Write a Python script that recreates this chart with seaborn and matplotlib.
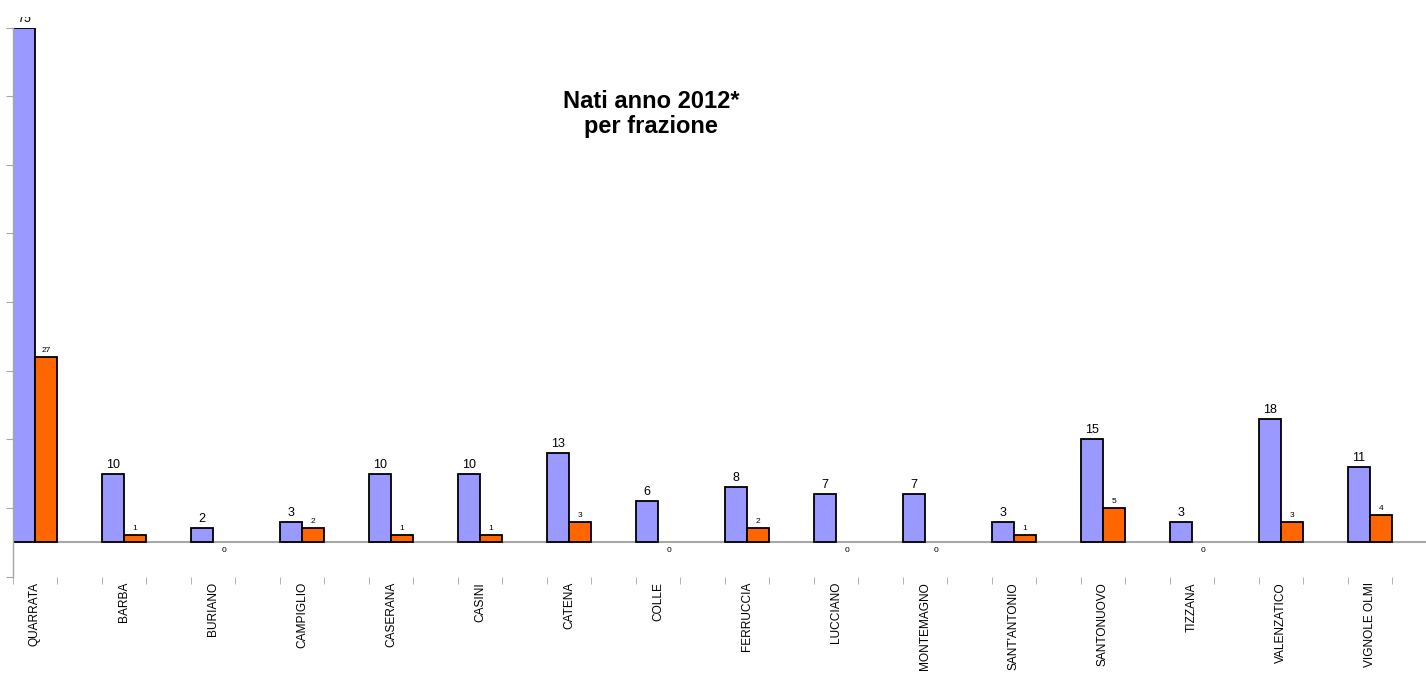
import pandas as pd
import seaborn as sns
import matplotlib.pyplot as plt
import numpy as np
from matplotlib.transforms import Bbox, TransformedBbox

frazioni = ['QUARRATA', 'BARBA', 'BURIANO', 'CAMPIGLIO', 'CASERANA', 'CASINI',
            'CATENA', 'COLLE', 'FERRUCCIA', 'LUCCIANO', 'MONTEMAGNO',
            "SANT'ANTONIO", 'SANTONUOVO', 'TIZZANA', 'VALENZATICO', 'VIGNOLE OLMI']
nati = [75, 10, 2, 3, 10, 10, 13, 6, 8, 7, 7, 3, 15, 3, 18, 11]
nati_2 = [27, 1, 0, 2, 1, 1, 3, 0, 2, 0, 0, 1, 5, 0, 3, 4]
y_ticks = [-5, 5, 15, 25, 35, 45, 55, 65, 75]

df = pd.DataFrame({
    'frazione': frazioni * 2,
    'valore': nati + nati_2,
    'serie': ['serie1'] * len(frazioni) + ['serie2'] * len(frazioni),
})

sns.set_style('white')
plt.rcParams['font.family'] = ['Liberation Sans', 'DejaVu Sans']
plt.rcParams['text.color'] = 'black'
plt.rcParams['xtick.labelcolor'] = 'black'

W, H = 1426, 673
fig = plt.figure(figsize=(W / 100, H / 100), dpi=100)
ax = fig.add_axes([12.7 / W, (H - 576.5) / H, (W - 12.7) / W, 549 / H])

sns.barplot(data=df, x='frazione', y='valore', hue='serie', ax=ax,
            palette=['#9999FF', '#FF6600'], saturation=1, width=0.5, dodge=True,
            edgecolor='black', linewidth=1.3, legend=False, errorbar=None)

# barre a zero: niente bordo
for p in ax.patches:
    if p.get_height() == 0:
        p.set_linewidth(0)

grey = '#a6a6a6'
ax.set_xlim(-0.25, 15.63)
ax.set_ylim(-5, 75)
ax.axhline(0, color=grey, lw=1.5, zorder=0)

for s in ['top', 'right', 'bottom']:
    ax.spines[s].set_visible(False)
ax.spines['left'].set_color(grey)
ax.spines['left'].set_linewidth(1.0)

ax.set_yticks(y_ticks)
ax.set_yticklabels([])
ax.tick_params(axis='y', length=5, color=grey, direction='out', left=True)

ax.set_xticks(np.arange(len(frazioni)))
ax.set_xticklabels(frazioni, rotation=90, fontsize=8.6)
ax.set_xticks(np.sort(np.concatenate([np.arange(len(frazioni)) - 0.25,
                                      np.arange(len(frazioni)) + 0.25])), minor=True)
ax.tick_params(axis='x', which='major', length=0, pad=4)
ax.tick_params(axis='x', which='minor', length=5, color=grey, direction='out', bottom=True)
ax.set_xlabel('')
ax.set_ylabel('')

clip = TransformedBbox(Bbox([[0, 0], [1, 1 - 17 / H]]), fig.transFigure)

# etichette dei valori
for i, cont in enumerate(ax.containers):
    for p in cont:
        v = p.get_height()
        x = p.get_x() + p.get_width() / 2
        if v == 0:
            t = ax.annotate('0', (x, 0), xytext=(0, -3.2), textcoords='offset points',
                            ha='center', va='top', fontsize=6)
        elif i == 0:
            t = ax.annotate(f'{v:.0f}', (x, v), xytext=(0, 4.3), textcoords='offset points',
                            ha='center', va='baseline', fontsize=9)
        else:
            t = ax.annotate(f'{v:.0f}', (x, v), xytext=(0, 3.6), textcoords='offset points',
                            ha='center', va='baseline', fontsize=6)
        t.set_clip_box(clip)
        t.set_clip_on(True)

fig.text(651 / W, 1 - 90 / H, 'Nati anno 2012*\nper frazione', ha='center', va='top',
         fontsize=17, fontweight='bold', linespacing=1.12)

plt.savefig('out.png', dpi=100)
